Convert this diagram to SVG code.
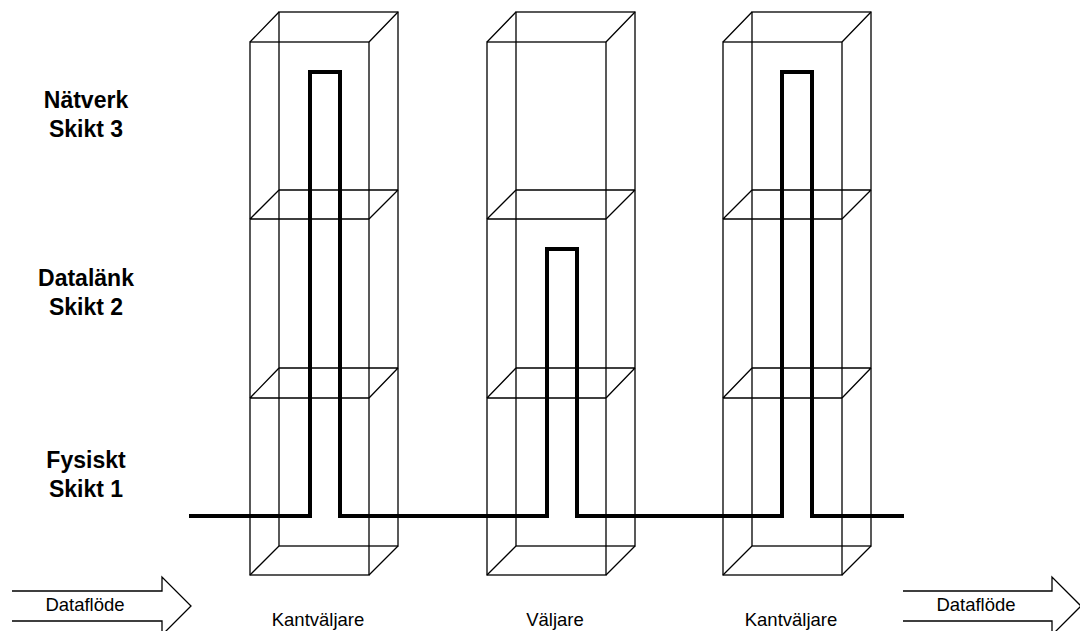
<svg xmlns="http://www.w3.org/2000/svg" width="1080" height="631" viewBox="0 0 1080 631">
  <style>
    .edge { fill: none; stroke: #000; stroke-width: 1.3; }
    .path { fill: none; stroke: #000; stroke-width: 4; stroke-linejoin: miter; }
    .layer { font-family: "Liberation Sans", Arial, sans-serif; font-weight: bold; font-size: 23px; fill: #000; text-anchor: middle; }
    .cap { font-family: "Liberation Sans", Arial, sans-serif; font-size: 18.5px; fill: #000; text-anchor: middle; }
  </style>
  <defs>
    <!-- Wireframe box split into three layers -->
    <g id="tower">
      <rect class="edge" x="279" y="12" width="119" height="534"/>
      <rect class="edge" x="250" y="42" width="119" height="533"/>
      <path class="edge" d="M250,42 L279,12 M369,42 L398,12 M250,575 L279,546 M369,575 L398,546"/>
      <path class="edge" d="M279,190 H398 M250,219 H369 M250,219 L279,190 M369,219 L398,190"/>
      <path class="edge" d="M279,368 H398 M250,398 H369 M250,398 L279,368 M369,398 L398,368"/>
    </g>
  </defs>

  <g id="layer-labels">
    <text class="layer" x="86" y="108">Nätverk</text>
    <text class="layer" x="86" y="137">Skikt 3</text>
    <text class="layer" x="86" y="286">Datalänk</text>
    <text class="layer" x="86" y="315">Skikt 2</text>
    <text class="layer" x="86" y="468">Fysiskt</text>
    <text class="layer" x="86" y="497">Skikt 1</text>
  </g>

  <g id="edge-switch-1">
    <use href="#tower"/>
    <text class="cap" x="318" y="626">Kantväljare</text>
  </g>
  <g id="switch">
    <use href="#tower" transform="translate(237,0)"/>
    <text class="cap" x="555" y="626">Väljare</text>
  </g>
  <g id="edge-switch-2">
    <use href="#tower" transform="translate(473,0)"/>
    <text class="cap" x="791" y="626">Kantväljare</text>
  </g>

  <g id="connectors">
    <path class="path" d="M189,516 H310 V72 H340 V516 H547 V249 H577 V516 H782 V72 H812 V516 H904"/>
  </g>

  <g id="flow-in">
    <path class="edge" d="M12,591 H162 V577 L191,606 L162,635 V621 H12"/>
    <text class="cap" x="85" y="611">Dataflöde</text>
  </g>
  <g id="flow-out">
    <path class="edge" d="M903,591 H1052 V577 L1081,606 L1052,635 V621 H903"/>
    <text class="cap" x="976" y="611">Dataflöde</text>
  </g>
</svg>
